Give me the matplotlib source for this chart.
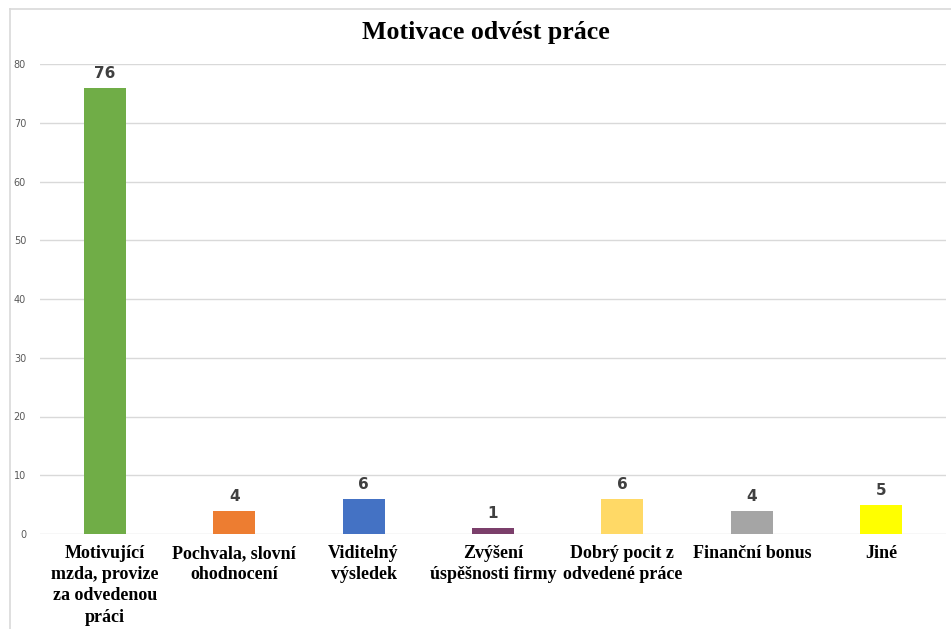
import matplotlib.pyplot as plt
import numpy as np

categories = ["Motivující\nmzda, provize\nza odvedenou\npráci",
              "Pochvala, slovní\nohodnocení",
              "Viditelný\nvýsledek",
              "Zvýšení\núspěšnosti firmy",
              "Dobrý pocit z\nodvedené práce",
              "Finanční bonus",
              "Jiné"]
values = [76, 4, 6, 1, 6, 4, 5]
colors = ["#70AD47", "#ED7D31", "#4472C4", "#7B3F6B", "#FFD966", "#A5A5A5", "#FFFF00"]
yticks = [0, 10, 20, 30, 40, 50, 60, 70, 80]

fig = plt.figure(figsize=(9.51, 6.29), dpi=100)
# light frame of the chart area (cropped at right/bottom)
fig.add_artist(plt.Line2D([10/951, 10/951], [0, 1 - 9/629], color="#D9D9D9", lw=1.2))
fig.add_artist(plt.Line2D([10/951, 1], [1 - 9/629, 1 - 9/629], color="#D9D9D9", lw=1.2))

ax = fig.add_axes([40/951, 1 - 534/629, 906/951, 470/629])
x = np.arange(len(values))
bars = ax.bar(x, values, width=0.325, color=colors, zorder=3)

ax.set_xlim(-0.5, len(values) - 0.5)
ax.set_ylim(0, 80)
ax.set_yticks(yticks)
ax.yaxis.grid(True, color="#D9D9D9", lw=1, zorder=0)
for s in ax.spines.values():
    s.set_visible(False)
ax.tick_params(axis="y", length=0, labelsize=7, labelcolor="#595959", pad=10)
ax.tick_params(axis="x", length=0, pad=8)
ax.set_xticks(x)
ax.set_xticklabels(categories, family="Liberation Serif", fontweight="bold",
                   fontsize=13, linespacing=1.32)

for b, v in zip(bars, values):
    ax.annotate(str(v), (b.get_x() + b.get_width() / 2, v), xytext=(0, 5),
                textcoords="offset points", ha="center", va="bottom",
                fontsize=11, fontweight="bold", color="#404040")

fig.text(486/951, 1 - 33/629, "Motivace odvést práce", ha="center", va="center",
         family="Liberation Serif", fontweight="bold", fontsize=18.6)

fig.savefig("out.png", dpi=100)
